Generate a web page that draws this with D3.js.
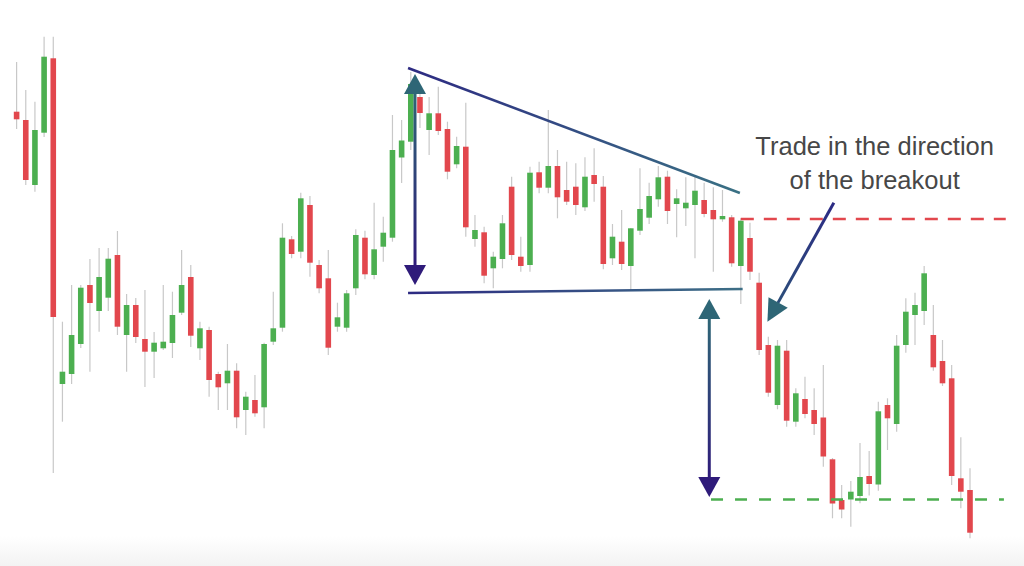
<!DOCTYPE html>
<html>
<head>
<meta charset="utf-8">
<script src="https://cdn.jsdelivr.net/npm/d3@7"></script>
<style>
  html, body { margin: 0; padding: 0; background: #ffffff; }
  svg { display: block; }
</style>
</head>
<body>
<div id="chart"></div>
<script>
// ---- Data (price units) ----
const opens = [48.83,48.00,41.50,46.73,54.17,21.60,22.60,25.60,31.50,28.90,
  30.23,34.50,26.50,29.50,26.10,24.83,25.17,25.70,28.73,32.30,
  25.17,27.00,22.60,21.67,22.93,19.00,20.00,19.27,25.83,27.23,
  36.07,34.83,39.50,33.50,32.17,27.33,27.23,31.17,36.23,32.50,
  35.33,36.23,44.25,45.83,50.30,47.00,48.67,47.10,43.57,45.33,
  36.10,36.77,33.17,34.10,41.33,34.33,33.50,42.77,41.23,43.40,
  41.00,41.33,39.27,42.50,41.33,34.17,35.83,33.40,36.93,38.23,
  40.07,42.33,39.60,39.17,39.50,40.00,39.00,38.07,38.27,33.40,
  36.20,31.73,25.50,19.50,24.93,17.83,20.10,19.00,18.25,14.07,
  10.00,10.05,10.40,12.40,11.55,19.50,17.60,25.50,28.50,28.90,
  26.50,23.90,22.17,12.17,11.00];
const highs = [53.80,51.00,49.83,56.33,56.33,27.83,31.50,31.50,34.10,35.20,
  35.20,36.90,30.60,30.20,31.00,26.80,31.50,30.83,35.00,33.50,
  27.83,27.33,22.83,25.60,23.67,20.83,22.50,25.73,30.83,37.67,
  36.40,40.73,40.40,34.00,35.00,29.73,31.00,37.07,36.93,39.73,
  38.33,48.50,48.00,52.80,51.20,50.30,51.33,47.83,46.33,49.73,
  38.50,37.33,34.83,38.50,42.33,36.33,43.33,43.83,49.00,45.00,
  43.83,43.67,44.27,45.17,42.40,37.60,39.00,37.20,43.17,41.73,
  43.40,42.93,41.07,42.27,42.33,41.73,41.27,41.00,38.50,38.17,
  37.73,32.73,26.33,26.00,26.00,21.17,22.33,21.17,23.50,14.20,
  11.50,11.90,15.70,14.90,19.83,20.17,26.50,30.17,30.73,33.40,
  29.50,26.00,23.50,16.27,13.17];
const lows = [47.10,41.50,40.83,46.30,12.70,17.83,21.60,25.20,22.83,26.83,
  28.90,26.50,22.83,25.70,21.30,22.20,25.00,24.20,28.50,25.30,
  24.00,20.33,19.00,19.00,17.17,16.50,18.33,17.17,25.50,26.83,
  34.17,34.17,32.33,30.67,24.50,26.83,26.83,30.50,32.07,32.07,
  33.83,35.83,41.70,45.00,47.20,44.50,46.50,42.07,43.17,36.33,
  35.33,31.67,31.17,33.17,34.00,32.83,32.83,40.67,40.67,38.17,
  39.50,38.50,38.90,39.83,33.07,33.50,33.00,31.00,36.50,37.60,
  39.33,37.60,36.27,37.40,34.17,38.27,32.83,37.83,33.33,29.60,
  32.00,24.50,20.33,19.07,17.33,17.33,18.17,16.50,13.33,8.17,
  8.17,7.33,9.67,10.45,10.93,15.00,16.83,24.73,25.50,27.50,
  22.93,21.40,11.50,9.17,6.17];
const closes = [48.07,42.00,47.00,54.33,28.30,22.83,26.50,31.23,29.70,32.30,
  34.13,27.33,29.50,26.30,24.83,25.73,25.83,28.50,31.50,26.43,
  27.17,22.00,21.27,22.93,18.27,20.33,18.67,25.60,27.17,36.23,
  34.60,40.17,33.73,31.17,25.23,28.27,30.67,36.50,32.57,35.07,
  36.73,45.00,45.95,51.60,48.70,48.67,46.90,42.83,45.40,37.27,
  37.00,32.43,34.33,37.67,34.50,33.40,42.73,41.23,43.40,40.27,
  39.83,39.50,42.33,41.60,33.60,36.33,33.60,37.17,39.10,40.40,
  42.27,38.90,40.17,39.73,40.93,38.60,38.07,38.40,33.67,37.93,
  32.83,25.00,20.73,25.43,17.93,20.67,18.60,17.60,14.35,9.65,
  9.05,10.83,12.30,11.60,18.87,18.17,25.43,28.83,29.50,32.67,
  23.27,21.67,12.40,10.83,6.73];
const sessions = d3.range(1, opens.length + 1); // candle index (category)

// ---- Annotations (in data units: [session index, price]) ----
const upperTrend = [[43.7, 53.2], [79.9, 40.7]];
const lowerTrend = [[43.7, 30.7], [80.2, 31.1]];
const heightArrow = [[44.46, 52.6], [44.46, 31.5]];
const targetArrow = [[76.56, 30.1], [76.56, 10.3]];
const breakoutArrow = [[90.15, 39.73], [82.9, 27.83]];
const resistanceLine = [[80.0, 38.1], [108.9, 38.1]];
const targetLine = [[76.75, 10.05], [108.7, 10.05]];
const labelLines = ["Trade in the direction", "of the breakout"];
const labelPos = [[94.6, 44.53], [94.6, 41.1]];

const W = 1024, H = 566;
const colUp = "#4caf50", colDown = "#e2474d", colWick = "#c8c8c8";
const navy = "#2d2a82", teal = "#2e6676", purple = "#2f1b7a";

const svg = d3.select("#chart").append("svg")
  .attr("width", W).attr("height", H).attr("viewBox", `0 0 ${W} ${H}`);

const defs = svg.append("defs");
// subtle bottom fade
const bg = defs.append("linearGradient").attr("id", "bottomFade")
  .attr("x1", 0).attr("y1", 0).attr("x2", 0).attr("y2", 1);
bg.append("stop").attr("offset", "0%").attr("stop-color", "#ffffff");
bg.append("stop").attr("offset", "100%").attr("stop-color", "#f3f3f3");
svg.append("rect").attr("width", W).attr("height", H).attr("fill", "#ffffff");
svg.append("rect").attr("x", 0).attr("y", 536).attr("width", W).attr("height", 30)
  .attr("fill", "url(#bottomFade)");

const x = d3.scaleLinear().domain([1, 105]).range([16.6, 970]);
const y = d3.scaleLinear().domain([0, 60]).range([600, 0]);

const candles = sessions.map((s, i) => ({
  s, o: opens[i], h: highs[i], l: lows[i], c: closes[i]
}));

const bodyW = 5.6;
const g = svg.append("g");
g.selectAll("line.wick").data(candles).join("line")
  .attr("class", "wick")
  .attr("x1", d => x(d.s)).attr("x2", d => x(d.s))
  .attr("y1", d => y(d.h)).attr("y2", d => y(d.l))
  .attr("stroke", colWick).attr("stroke-width", 1.2);
g.selectAll("rect.body").data(candles).join("rect")
  .attr("class", "body")
  .attr("x", d => x(d.s) - bodyW / 2)
  .attr("width", bodyW)
  .attr("y", d => y(Math.max(d.o, d.c)))
  .attr("height", d => Math.max(1.5, Math.abs(y(d.o) - y(d.c))))
  .attr("fill", d => d.c >= d.o ? colUp : colDown);

// dashed levels
function level(pts, color, dash) {
  svg.append("line")
    .attr("x1", x(pts[0][0])).attr("y1", y(pts[0][1]))
    .attr("x2", x(pts[1][0])).attr("y2", y(pts[1][1]))
    .attr("stroke", color).attr("stroke-width", 2.4)
    .attr("stroke-dasharray", dash);
}
level(resistanceLine, colDown, "13,10");
level(targetLine, colUp, "12,12");

// gradient line helper
let gid = 0;
function gradLine(p1, p2, c1, c2, width) {
  const id = "lg" + (gid++);
  const lg = defs.append("linearGradient").attr("id", id)
    .attr("gradientUnits", "userSpaceOnUse")
    .attr("x1", p1[0]).attr("y1", p1[1]).attr("x2", p2[0]).attr("y2", p2[1]);
  lg.append("stop").attr("offset", "0%").attr("stop-color", c1);
  lg.append("stop").attr("offset", "100%").attr("stop-color", c2);
  svg.append("line")
    .attr("x1", p1[0]).attr("y1", p1[1]).attr("x2", p2[0]).attr("y2", p2[1])
    .attr("stroke", `url(#${id})`).attr("stroke-width", width)
    .attr("stroke-linecap", "butt");
}
function head(tip, from, len, halfW, color) {
  const dx = tip[0] - from[0], dy = tip[1] - from[1];
  const L = Math.hypot(dx, dy), ux = dx / L, uy = dy / L;
  const bx = tip[0] - ux * len, by = tip[1] - uy * len;
  const px = -uy, py = ux;
  svg.append("path")
    .attr("d", `M${tip[0]},${tip[1]}L${bx + px * halfW},${by + py * halfW}L${bx - px * halfW},${by - py * halfW}Z`)
    .attr("fill", color);
  return [bx, by];
}
const P = d => [x(d[0]), y(d[1])];

// trendlines
gradLine(P(upperTrend[0]), P(upperTrend[1]), navy, "#3a7184", 2.6);
gradLine(P(lowerTrend[0]), P(lowerTrend[1]), navy, "#3d6f86", 2.6);

// double-headed vertical arrows
function dblArrow(pts) {
  const top = P(pts[0]), bot = P(pts[1]);
  const len = 20, hw = 11;
  const tb = [top[0], top[1] + len], bb = [bot[0], bot[1] - len];
  gradLine([tb[0], tb[1] - 1], [bb[0], bb[1] + 1], teal, purple, 3);
  head(top, bot, len, hw, teal);
  head(bot, top, len, hw, purple);
}
dblArrow(heightArrow);
dblArrow(targetArrow);

// breakout pointer arrow
{
  const from = P(breakoutArrow[0]), tip = P(breakoutArrow[1]);
  const dx = tip[0] - from[0], dy = tip[1] - from[1];
  const L = Math.hypot(dx, dy);
  const base = [tip[0] - dx / L * 19, tip[1] - dy / L * 19];
  gradLine(from, base, "#2b2a84", "#2c4f7a", 3);
  head(tip, from, 22, 11, teal);
}

// label
svg.selectAll("text.label").data(labelLines).join("text")
  .attr("class", "label")
  .attr("x", (d, i) => x(labelPos[i][0]))
  .attr("y", (d, i) => y(labelPos[i][1]))
  .attr("text-anchor", "middle")
  .attr("font-family", "'Liberation Sans', Arial, Helvetica, sans-serif")
  .attr("font-size", 25.5)
  .attr("fill", "#474747")
  .text(d => d);
</script>
</body>
</html>
